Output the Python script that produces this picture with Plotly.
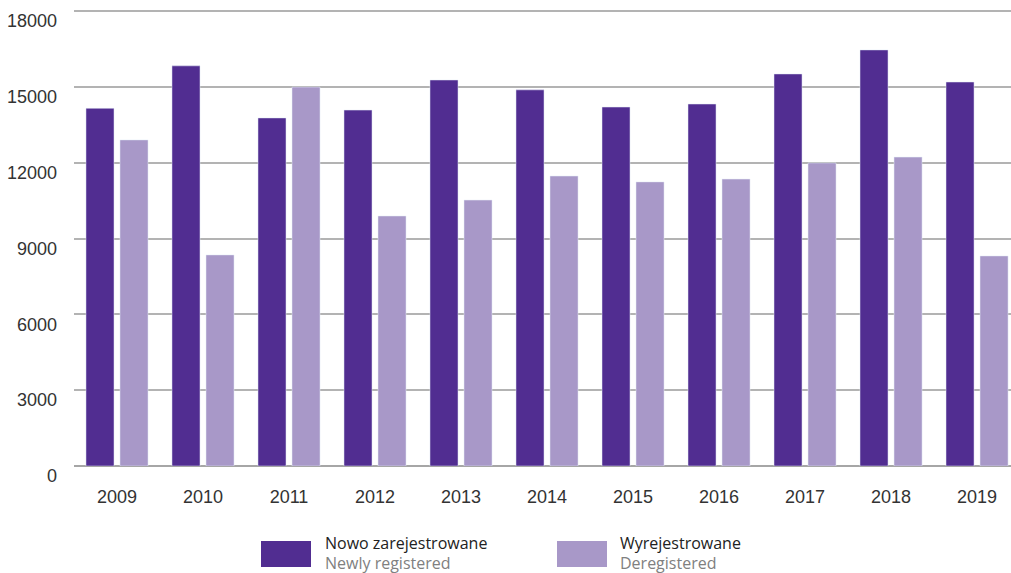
import plotly.graph_objects as go

years = ["2009", "2010", "2011", "2012", "2013", "2014", "2015", "2016", "2017", "2018", "2019"]
newly_registered = [14150, 15830, 13770, 14080, 15270, 14880, 14200, 14320, 15510, 16460, 15190]
deregistered = [12900, 8350, 14990, 9890, 10520, 11470, 11240, 11350, 11990, 12220, 8310]
y_ticks = [0, 3000, 6000, 9000, 12000, 15000, 18000]

dark = "#512d91"
light = "#a898c8"

fig = go.Figure()
fig.add_trace(go.Bar(x=years, y=newly_registered, marker_color=dark, name="Nowo zarejestrowane"))
fig.add_trace(go.Bar(x=years, y=deregistered, marker_color=light, name="Wyrejestrowane"))

W, H = 1011, 573
L, R, T, B = 74, 0, 4, 107
pw, ph = W - L - R, H - T - B
# 18000 sits at pixel row 11, 0 at row 466
ymax = 18000 * ph / (466 - 11)

def px_x(p):
    return (p - L) / pw

def px_y(p):
    return (H - B - p) / ph

fig.update_layout(
    width=W, height=H,
    margin=dict(l=L, r=R, t=T, b=B),
    plot_bgcolor="white", paper_bgcolor="white",
    barmode="group", bargap=0.209, bargroupgap=0.176,
    showlegend=False,
    font=dict(family="Liberation Sans, Arial, sans-serif", size=18, color="#333333"),
)
fig.update_xaxes(
    type="category", range=[-0.5, 10.395], showgrid=False, showline=False,
    ticks="", ticklabelstandoff=18, tickfont=dict(size=18, color="#333333"),
)
fig.update_yaxes(
    range=[0, ymax], tickvals=y_ticks, tickformat="d", showgrid=True,
    gridcolor="#b3b3b3", gridwidth=1.5,
    zeroline=True, zerolinecolor="#a6a6a6", zerolinewidth=1.5, showline=False,
    ticks="", ticklabelstandoff=16, ticklabelshift=10,
    tickfont=dict(size=18, color="#333333"),
)

legend_items = [
    (261, 311, 323, "Nowo zarejestrowane", "Newly registered", dark),
    (557, 607, 618, "Wyrejestrowane", "Deregistered", light),
]
for x0, x1, tx, l1, l2, col in legend_items:
    fig.add_shape(type="rect", xref="paper", yref="paper",
                  x0=px_x(x0), x1=px_x(x1), y0=px_y(567), y1=px_y(541),
                  fillcolor=col, line=dict(width=0))
    fig.add_annotation(xref="paper", yref="paper", x=px_x(tx), y=px_y(543),
                       text=l1, showarrow=False, xanchor="left", yanchor="middle",
                       font=dict(family="Open Sans, sans-serif", size=16, color="#222222"))
    fig.add_annotation(xref="paper", yref="paper", x=px_x(tx), y=px_y(563),
                       text=l2, showarrow=False, xanchor="left", yanchor="middle",
                       font=dict(family="Open Sans, sans-serif", size=16, color="#808080"))

fig.write_html("out.html", config={"displayModeBar": False},
               post_script="document.body.style.margin='0';document.body.style.overflow='hidden';")
